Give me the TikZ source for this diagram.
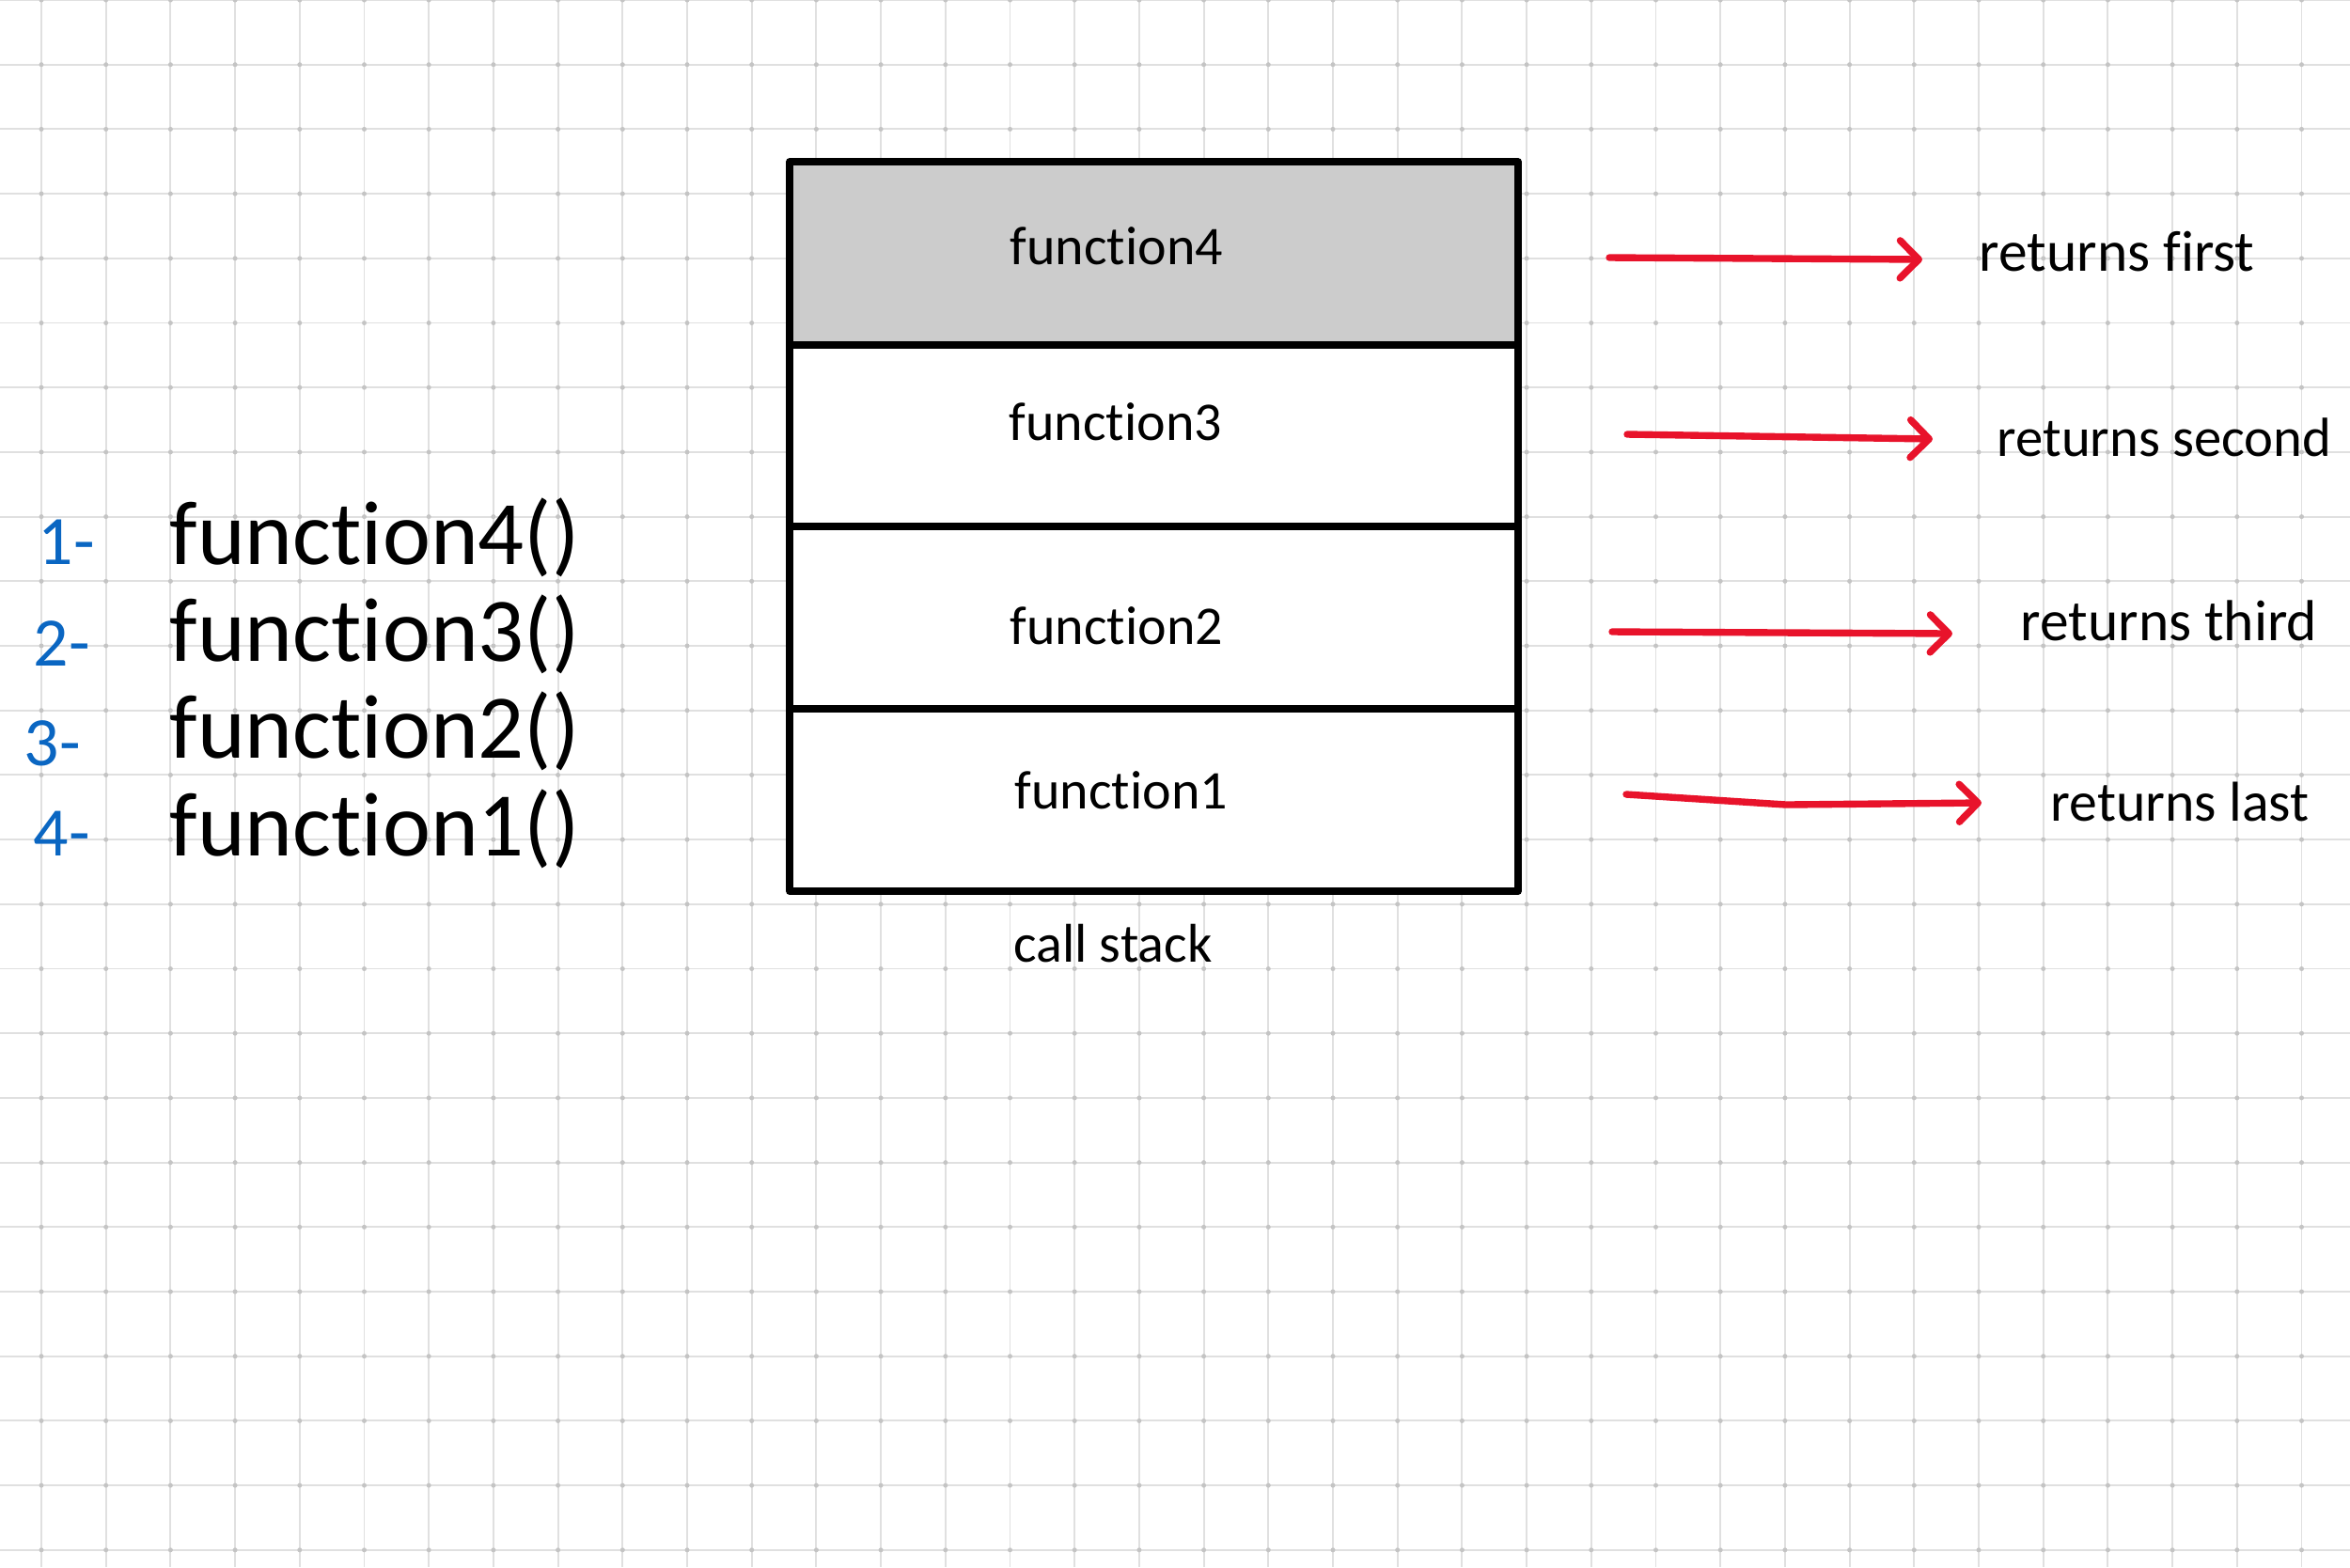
\documentclass[tikz,border=0pt]{standalone}
\usepackage{fontspec}
\setmainfont[Ligatures=NoCommon]{Carlito}
\usetikzlibrary{arrows.meta}
\definecolor{gridcol}{HTML}{E0E0E0}
\definecolor{dotcol}{HTML}{C4C4C4}
\definecolor{cellgray}{HTML}{CCCCCC}
\definecolor{penred}{HTML}{E8132B}
\definecolor{penblue}{HTML}{0A66C2}
\tikzset{
  gridline/.style={draw=gridcol, line width=0.55pt},
  griddot/.style={fill=dotcol},
  cell/.style={draw=black, line width=2.2pt, line join=round, minimum width=7.75cm, inner sep=0pt, outer sep=0pt},
  celltext/.style={font=\fontsize{16.5}{20}\selectfont, inner sep=0pt},
  listtext/.style={font=\fontsize{27.5}{33}\selectfont, inner sep=0pt, anchor=base west},
  numtext/.style={font=\fontsize{21}{25}\selectfont, text=penblue, inner sep=0pt, anchor=base west},
  rettext/.style={font=\fontsize{17}{21}\selectfont, inner sep=0pt, anchor=west},
  retarrow/.style={draw=penred, line width=2.1pt, line cap=round, line join=round, -{Straight Barb[length=2mm, width=4mm, line cap=round, line join=round]}},
}
\begin{document}
\begin{tikzpicture}
\useasboundingbox (0,0) rectangle (25,-16.67);
\fill[white] (0,0) rectangle (25,-16.67);
% grid
\foreach \i in {0,...,35} {
  \draw[gridline] ({0.44+\i*0.687},0) -- ({0.44+\i*0.687},-16.67);
}
\foreach \j in {0,...,24} {
  \draw[gridline] (0,{-\j*0.687}) -- (25,{-\j*0.687});
}
\foreach \i in {0,...,35} {
  \foreach \j in {0,...,24} {
    \fill[griddot] ({0.44+\i*0.687},{-\j*0.687}) circle (0.025);
  }
}
% call stack cells
\node[cell, fill=cellgray, minimum height=1.95cm] (c4) at (12.275,-2.695) {};
\node[cell, fill=white, minimum height=1.93cm] (c3) at (12.275,-4.635) {};
\node[cell, fill=white, minimum height=1.94cm] (c2) at (12.275,-6.57) {};
\node[cell, fill=white, minimum height=1.94cm] (c1) at (12.275,-8.51) {};
\node[celltext] (t4) at (11.88,-2.62) {function4};
\node[celltext] (t3) at (11.87,-4.49) {function3};
\node[celltext] (t2) at (11.88,-6.66) {function2};
\node[celltext] (t1) at (11.93,-8.41) {function1};
\node[celltext] (cs) at (11.84,-10.04) {call stack};
% list
\node[listtext] (l1) at (1.80,-6.00) {function4()};
\node[listtext] (l2) at (1.80,-7.03) {function3()};
\node[listtext] (l3) at (1.80,-8.06) {function2()};
\node[listtext] (l4) at (1.80,-9.10) {function1()};
\node[numtext] (n1) at (0.40,-6.00) {1-};
\node[numtext] (n2) at (0.35,-7.08) {2-};
\node[numtext] (n3) at (0.25,-8.14) {3-};
\node[numtext] (n4) at (0.35,-9.10) {4-};
% return labels
\node[rettext, font=\fontsize{17.5}{21}\selectfont] (r1) at (21.05,-2.68) {returns first};
\node[rettext, font=\fontsize{16.7}{21}\selectfont] (r2) at (21.24,-4.65) {returns second};
\node[rettext, font=\fontsize{17.5}{21}\selectfont] (r3) at (21.49,-6.60) {returns third};
\node[rettext] (r4) at (21.81,-8.53) {returns last};
% arrows
\coordinate (a1s) at (17.12,-2.74);
\coordinate (a1e) at (20.45,-2.76);
\coordinate (a2s) at (17.31,-4.62);
\coordinate (a2e) at (20.56,-4.67);
\coordinate (a3s) at (17.15,-6.72);
\coordinate (a3e) at (20.77,-6.74);
\coordinate (a4s) at (17.30,-8.45);
\coordinate (a4m) at (19.00,-8.56);
\coordinate (a4e) at (21.08,-8.54);
\draw[retarrow] (a1s) -- (a1e);
\draw[retarrow] (a2s) -- (a2e);
\draw[retarrow] (a3s) -- (a3e);
\draw[retarrow] (a4s) -- (a4m) -- (a4e);
\end{tikzpicture}
\end{document}
